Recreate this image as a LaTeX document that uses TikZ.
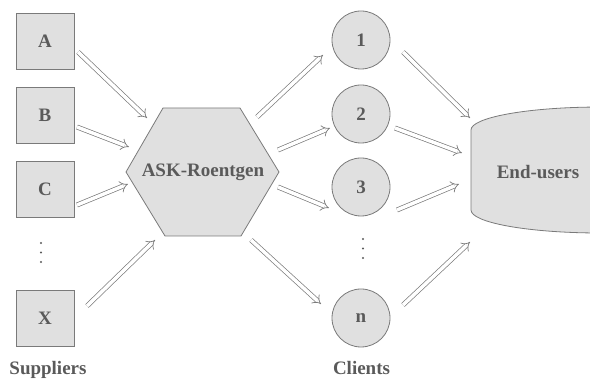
\documentclass[tikz,border=0pt]{standalone}
\usepackage{fontspec}
\setmainfont{Liberation Serif}
\usetikzlibrary{arrows.meta,calc}
\definecolor{boxfill}{HTML}{E0E0E0}
\definecolor{boxline}{HTML}{7A7A7A}
\definecolor{txt}{HTML}{5A5A5A}
\begin{document}
\begin{tikzpicture}[x=1pt,y=-1pt,
  lab/.style={font=\fontsize{19}{22}\selectfont\bfseries, text=txt},
  sq/.style={lab, draw=boxline, fill=boxfill, line width=0.8pt, minimum width=58pt, minimum height=56pt, inner sep=0pt},
  circ/.style={lab, circle, draw=boxline, fill=boxfill, line width=0.8pt, minimum size=58pt, inner sep=0pt},
  shapeline/.style={draw=boxline, fill=boxfill, line width=0.8pt},
  flow/.style={draw=boxline, line width=0.7pt, double=white, double distance=3.5pt, -{Implies}},
  dot/.style={fill=txt, draw=none}
]
\useasboundingbox (0,0) rectangle (590,379);
% suppliers
\node[sq] (A) at (45,41) {A};
\node[sq] (B) at (45,115) {B};
\node[sq] (C) at (45,189) {C};
\node[sq] (X) at (45,318) {X};
\foreach \yy in {243,252.5,262} \fill[dot] (41,\yy) circle (1.1pt);
% hub
\coordinate (Hc) at (203,172);
\draw[shapeline] ($(Hc)+(-40,-64)$) -- ($(Hc)+(37,-64)$) -- ($(Hc)+(76,0)$)
  -- ($(Hc)+(38,64)$) -- ($(Hc)+(-38,64)$) -- ($(Hc)+(-77,0)$) -- cycle;
\node[lab] (H) at (Hc) {ASK-Roentgen};
% clients
\node[circ] (c1) at (361,40) {1};
\node[circ] (c2) at (361,114) {2};
\node[circ] (c3) at (361,187) {3};
\node[circ] (cn) at (361,318) {n};
\foreach \yy in {239,248.5,258} \fill[dot] (363,\yy) circle (1.1pt);
% end-users cylinder
\fill[boxfill] (471,130) arc[start angle=180, end angle=270, x radius=129, y radius=23]
  -- (600,233) arc[start angle=90, end angle=180, x radius=129, y radius=23] -- cycle;
\draw[boxline, line width=0.8pt] (595,107.05) arc[start angle=267.8, end angle=180, x radius=129, y radius=23]
  -- (471,210) arc[start angle=180, end angle=92.2, x radius=129, y radius=23];
\node[lab] (E) at (538,172) {End-users};
% captions
\node[lab, anchor=base] (sup) at (48,374.5) {Suppliers};
\node[lab, anchor=base] (cli) at (361.5,374.5) {Clients};
% arrows suppliers -> hub
\draw[flow] ($(A)+(33,11)$) -- ($(H)+(-56,-54)$);
\draw[flow] ($(B)+(32,12)$) -- ($(H)+(-74,-25)$);
\draw[flow] ($(C)+(32,16)$) -- ($(H)+(-75,12)$);
\draw[flow] ($(X)+(42,-12)$) -- ($(H)+(-48,68)$);
% hub -> clients
\draw[flow] ($(H)+(54,-55)$) -- ($(c1)+(-38,15)$);
\draw[flow] ($(H)+(75,-22)$) -- ($(c2)+(-31,14)$);
\draw[flow] ($(H)+(75,15)$) -- ($(c3)+(-32,21)$);
\draw[flow] ($(H)+(48,68)$) -- ($(cn)+(-40,-14)$);
% clients -> end-users
\draw[flow] ($(c1)+(42,12)$) -- ($(E)+(-68,-54)$);
\draw[flow] ($(c2)+(34,14)$) -- ($(E)+(-76,-19)$);
\draw[flow] ($(c3)+(36,23)$) -- ($(E)+(-79,12)$);
\draw[flow] ($(cn)+(42,-13)$) -- ($(E)+(-68,70)$);
\end{tikzpicture}
\end{document}
